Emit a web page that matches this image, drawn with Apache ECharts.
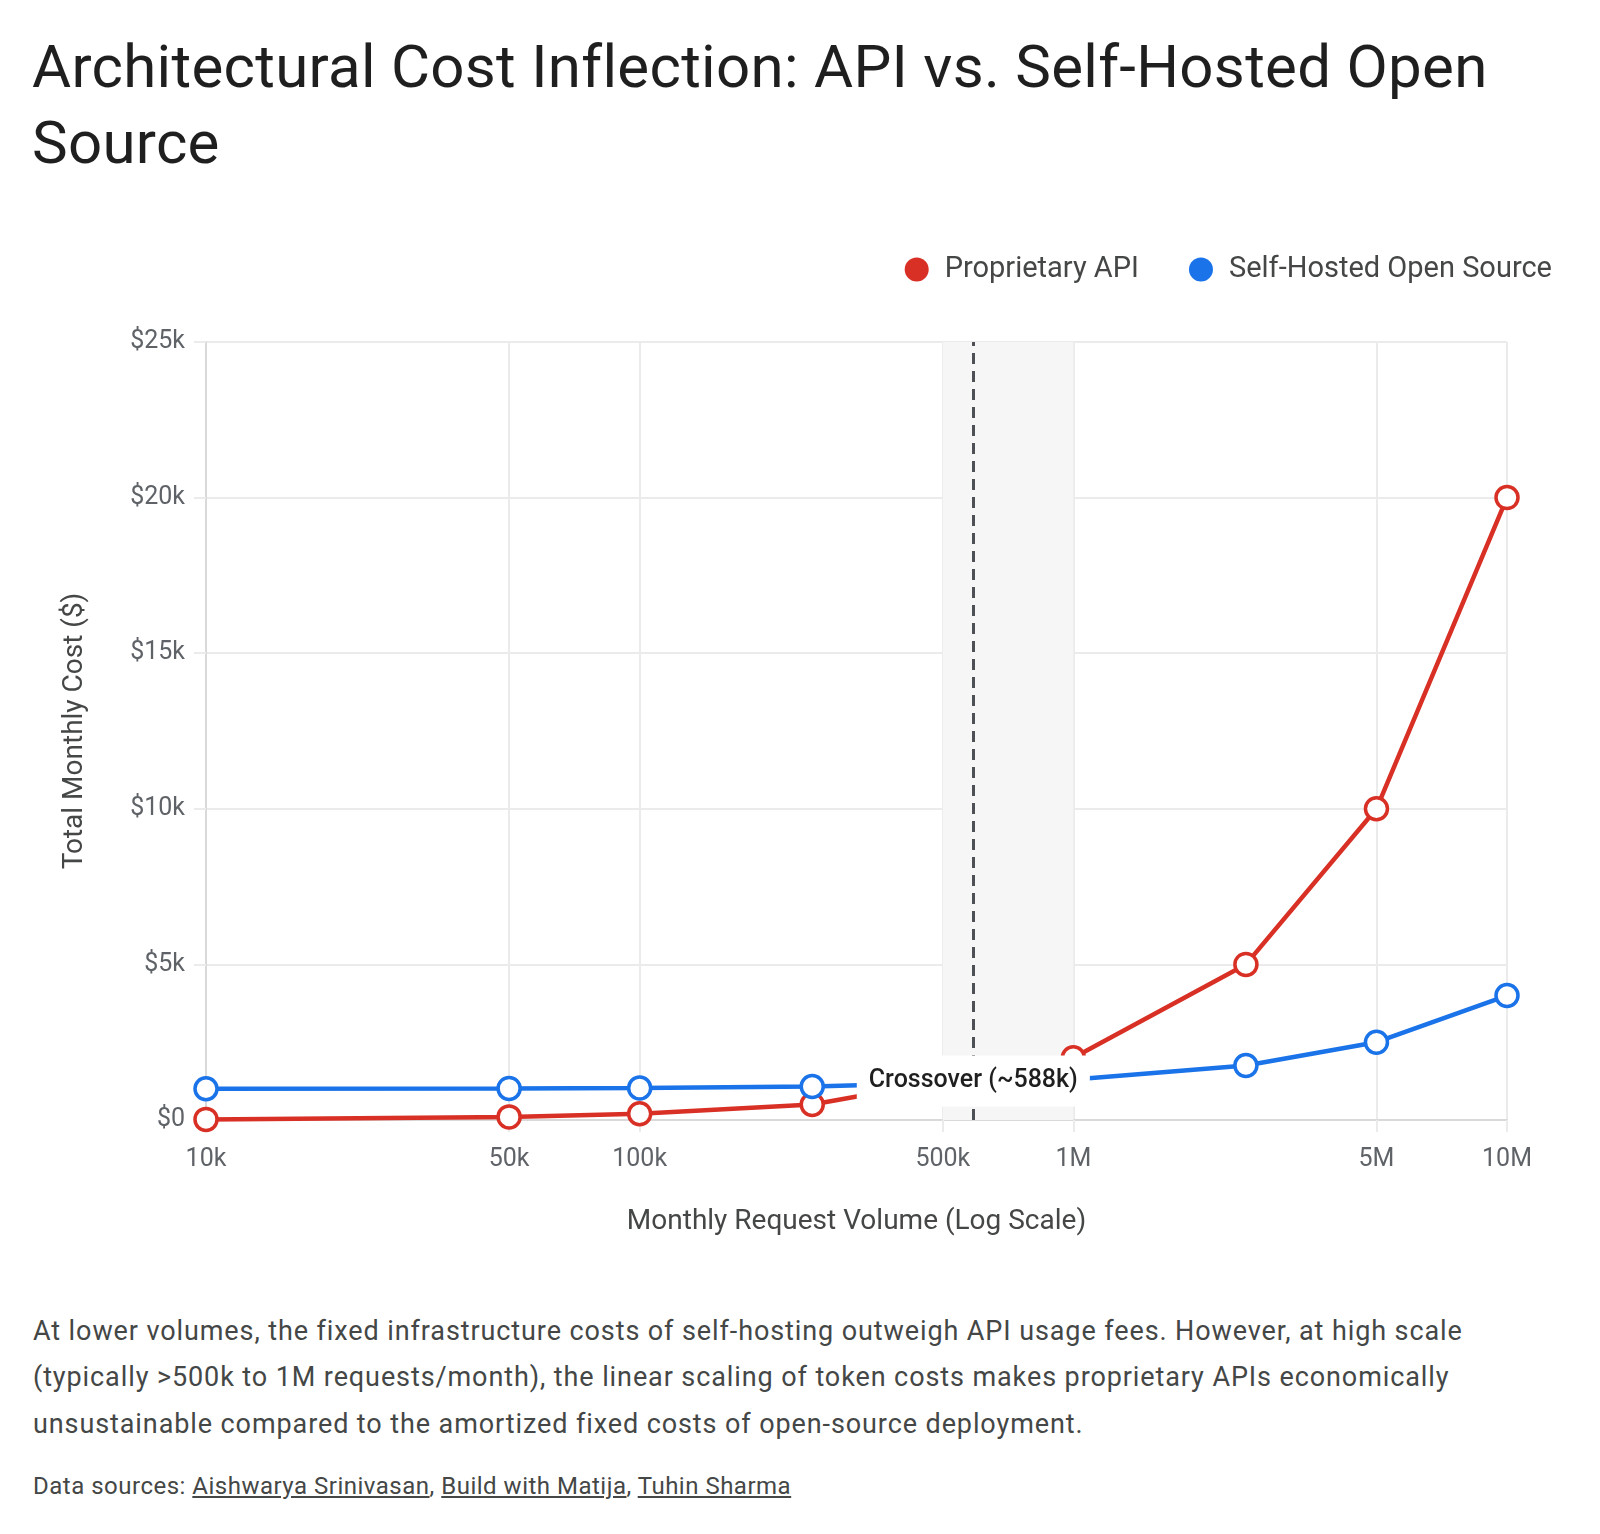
<!DOCTYPE html>
<html lang="en">
<head>
    <meta charset="UTF-8">
    <title>Architectural Cost Inflection</title>
    <script src="https://cdn.jsdelivr.net/npm/echarts@6.0.0/dist/echarts.min.js"></script>
    <style>
        html, body { margin: 0; padding: 0; background: #fff; }
        body { width: 1600px; height: 1534px; position: relative; font-family: Roboto, "Noto Sans", sans-serif; }
        #title { position: absolute; left: 32px; top: 29px; margin: 0; font-size: 60px; line-height: 76px; font-weight: 400; color: #1f1f1f; white-space: nowrap; letter-spacing: 0.3px; }
        #main { position: absolute; left: 0; top: 0; width: 1600px; height: 1260px; }
        #note { position: absolute; left: 33px; top: 1308px; margin: 0; font-size: 27px; line-height: 46.3px; color: #444746; white-space: nowrap; letter-spacing: 0.9px; }
        #sources { position: absolute; left: 33px; top: 1471px; margin: 0; font-size: 24px; line-height: 30px; color: #444746; white-space: nowrap; letter-spacing: 0.5px; }
        #sources a { color: inherit; text-decoration: underline; }
    </style>
</head>
<body>

<div id="main"></div>
<h1 id="title">Architectural Cost Inflection: API vs. Self-Hosted Open<br>Source</h1>
<p id="note">At lower volumes, the fixed infrastructure costs of self-hosting outweigh API usage fees. However, at high scale<br>(typically &gt;500k to 1M requests/month), the linear scaling of token costs makes proprietary APIs economically<br>unsustainable compared to the amortized fixed costs of open-source deployment.</p>
<p id="sources">Data sources: <a href="#">Aishwarya Srinivasan</a>, <a href="#">Build with Matija</a>, <a href="#">Tuhin Sharma</a></p>

<script type="text/javascript">
    // monthly requests
    var volumes = [10000, 50000, 100000, 250000, 1000000, 2500000, 5000000, 10000000];
    // monthly cost in $
    var apiCost = [20, 100, 200, 500, 2000, 5000, 10000, 20000];
    var selfHostedCost = [1003, 1015, 1030, 1075, 1300, 1750, 2500, 4000];
    var xTicks = [10000, 50000, 100000, 500000, 1000000, 5000000, 10000000];
    var crossover = 588000;
    var crossoverLabelY = 1250;
    var zone = [500000, 1000000];

    var red = '#d93025', blue = '#1a73e8';
    var labelColor = '#5f6368';

    function pairs(xs, ys) {
        return xs.map(function (x, i) { return [x, ys[i]]; });
    }

    function volumeLabel(v) {
        if (v >= 1000000) return Math.round(v / 1000000) + 'M';
        return Math.round(v / 1000) + 'k';
    }

    var myChart = echarts.init(document.getElementById('main'));

    var option = {
        animation: false,
        textStyle: { fontFamily: 'Roboto' },
        legend: {
            right: 43,
            top: 250,
            icon: 'circle',
            itemWidth: 24,
            itemHeight: 24,
            itemGap: 50,
            textStyle: { fontSize: 29, color: '#444746', padding: [0, 0, 0, 11] },
            data: [
                { name: 'Proprietary API', itemStyle: { color: red, borderWidth: 0 } },
                { name: 'Self-Hosted Open Source', itemStyle: { color: blue, borderWidth: 0 } }
            ]
        },
        grid: { left: 206, right: 93, top: 342, bottom: 140 },
        xAxis: {
            type: 'log',
            logBase: 10,
            min: 10000,
            max: 10000000,
            name: 'Monthly Request Volume (Log Scale)',
            nameLocation: 'middle',
            nameGap: 88,
            nameTextStyle: { fontSize: 28, color: '#444746' },
            axisLine: { lineStyle: { color: '#d9d9d9', width: 2 } },
            axisTick: { show: true, length: 12, customValues: xTicks, lineStyle: { color: '#ebebeb', width: 2 } },
            axisLabel: { customValues: xTicks, fontSize: 25, color: labelColor, margin: 27, formatter: volumeLabel },
            splitLine: { show: true, lineStyle: { color: '#ebebeb', width: 2 } }
        },
        yAxis: {
            type: 'value',
            min: 0,
            max: 25000,
            interval: 5000,
            name: 'Total Monthly Cost ($)',
            nameLocation: 'middle',
            nameGap: 117,
            nameTextStyle: { fontSize: 28, color: '#444746' },
            axisLine: { show: true, lineStyle: { color: '#d9d9d9', width: 2 } },
            axisTick: { show: true, length: 12, lineStyle: { color: '#ebebeb', width: 2 } },
            axisLabel: {
                fontSize: 25, color: labelColor, margin: 21,
                formatter: function (v) { return v === 0 ? '$0' : '$' + (v / 1000) + 'k'; }
            },
            splitLine: { lineStyle: { color: '#ebebeb', width: 2 } }
        },
        series: [
            {
                name: 'Proprietary API',
                type: 'line',
                data: pairs(volumes, apiCost),
                symbol: 'circle',
                symbolSize: 22,
                lineStyle: { color: red, width: 4.5 },
                itemStyle: { color: '#fff', borderColor: red, borderWidth: 3.5 },
                emphasis: { disabled: true },
                z: 3,
                markArea: {
                    silent: true,
                    itemStyle: { color: '#f6f6f6' },
                    data: [[{ xAxis: zone[0] }, { xAxis: zone[1] }]]
                },
                markLine: {
                    silent: true,
                    symbol: 'none',
                    label: { show: false },
                    lineStyle: { color: '#4d5156', width: 3, type: [11, 7] },
                    data: [{ xAxis: crossover }]
                }
            },
            {
                name: 'Self-Hosted Open Source',
                type: 'line',
                data: pairs(volumes, selfHostedCost),
                symbol: 'circle',
                symbolSize: 22,
                lineStyle: { color: blue, width: 4.5 },
                itemStyle: { color: '#fff', borderColor: blue, borderWidth: 3.5 },
                emphasis: { disabled: true },
                z: 3,
                markPoint: {
                    silent: true,
                    z: 10,
                    symbol: 'rect',
                    symbolSize: 1,
                    itemStyle: { color: 'rgba(0,0,0,0)' },
                    label: {
                        show: true,
                        position: 'inside',
                        formatter: 'Crossover (~588k)',
                        fontSize: 25,
                        fontWeight: 500,
                        color: '#1f1f1f',
                        backgroundColor: '#fff',
                        padding: [13, 12, 13, 12]
                    },
                    data: [{ coord: [crossover, crossoverLabelY] }]
                }
            }
        ]
    };

    myChart.setOption(option);
</script>

</body>
</html>
